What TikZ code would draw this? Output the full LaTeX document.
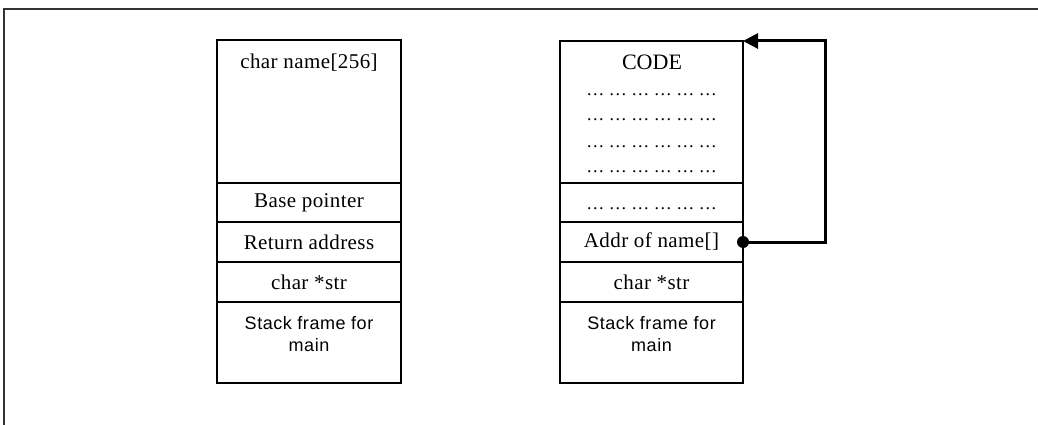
\documentclass[tikz,border=0pt]{standalone}
\usepackage{fontspec}
\setmainfont{Liberation Serif}
\newfontfamily\bmserif[LetterSpace=2]{Liberation Serif}
\newfontfamily\bmsans[LetterSpace=3]{Liberation Sans}
\newfontfamily\plainserif{Liberation Serif}
\usetikzlibrary{arrows.meta}
\begin{document}
\begin{tikzpicture}[x=1pt,y=-1pt,
  cell/.style={draw=black,line width=2pt,minimum width=184pt,inner sep=0pt,outer sep=0pt},
  lbl/.style={font=\fontsize{21}{24}\bmserif,inner sep=0pt},
  slbl/.style={font=\fontsize{18}{22}\bmsans,inner sep=0pt,align=center},
  dots/.style={font=\fontsize{18}{20}\plainserif,inner sep=0pt,anchor=base},
  conn/.style={line width=3pt,-{Triangle[length=15pt,width=15pt]}}]
\useasboundingbox (0,0) rectangle (1038,425);
\fill[white] (0,0) rectangle (1038,425);
% frame
\draw[line width=2.5pt,gray!40!black] (4,425) -- (4,9) -- (1038,9);
% left stack
\node[cell,minimum height=143pt] (lname) at (309,111.5) {};
\node[cell,minimum height=39pt] (lbase) at (309,202.5) {};
\node[cell,minimum height=40pt] (lret) at (309,242) {};
\node[cell,minimum height=40pt] (lstr) at (309,282) {};
\node[cell,minimum height=81pt] (lmain) at (309,342.5) {};
\node[lbl] (tname) at (309,63) {char name[256]};
\node[lbl] at (lbase) {Base pointer};
\node[lbl] at (lret) {Return address};
\node[lbl] at (lstr) {char *str};
\node[slbl] (tlmain) at (309,334) {Stack frame for\\main};
% right stack
\node[cell,minimum width=183pt,minimum height=142pt] (code) at (651.5,112) {};
\node[cell,minimum width=183pt,minimum height=39pt] (rdots) at (651.5,202.5) {};
\node[cell,minimum width=183pt,minimum height=40pt] (addr) at (651.5,242) {};
\node[cell,minimum width=183pt,minimum height=40pt] (rstr) at (651.5,282) {};
\node[cell,minimum width=183pt,minimum height=81pt] (rmain) at (651.5,342.5) {};
\node[font=\fontsize{22}{24}\plainserif,inner sep=0pt] (tcode) at (652,62) {CODE};
\node[dots] (d1) at (651.5,96) {… … … … … …};
\node[dots] (d2) at (651.5,121) {… … … … … …};
\node[dots] (d3) at (651.5,147) {… … … … … …};
\node[dots] (d4) at (651.5,172) {… … … … … …};
\node[dots] (d5) at (651.5,209) {… … … … … …};
\node[lbl] at (addr) {Addr of name[]};
\node[lbl] at (rstr) {char *str};
\node[slbl] (trmain) at (651.5,334) {Stack frame for\\main};
% connector
\coordinate (turn) at (825,242);
\fill (addr.east) circle (6pt);
\draw[conn] (addr.east) -- (turn) |- (code.north east);
\end{tikzpicture}
\end{document}
